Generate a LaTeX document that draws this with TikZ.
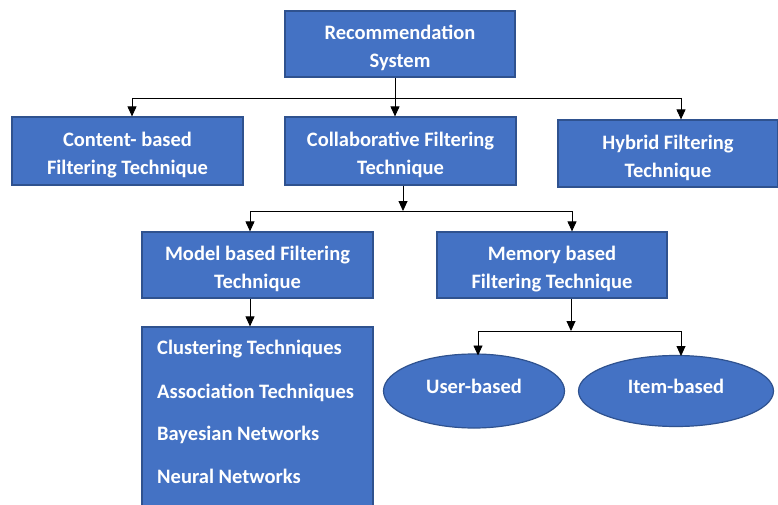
\documentclass[tikz,border=0pt]{standalone}
\usepackage{fontspec}
\setmainfont{Carlito}
\usetikzlibrary{arrows.meta,shapes.geometric}
\definecolor{boxfill}{RGB}{68,114,196}
\definecolor{boxline}{RGB}{47,82,143}
\newcommand{\toppad}{\rule{0pt}{23pt}}
\begin{document}
\begin{tikzpicture}[x=1pt,y=1pt,
  box/.style={rectangle,draw=boxline,line width=1.2pt,fill=boxfill,text=white,
    font=\bfseries\fontsize{20.5}{28}\selectfont,align=center,inner sep=0pt},
  oval/.style={ellipse,draw=boxline,line width=1.2pt,fill=boxfill,inner sep=0pt},
  ovaltext/.style={text=white,font=\bfseries\fontsize{20.5}{28}\selectfont,inner sep=0pt},
  item/.style={anchor=west,text=white,font=\bfseries\fontsize{20.5}{21}\selectfont,inner sep=0pt},
  conn/.style={draw=black,line width=0.9pt},
  arr/.style={conn,-{Triangle[length=10pt,width=9pt]}}]
\useasboundingbox (0,0) rectangle (778,-505);
\fill[white] (0,0) rectangle (778,-505);
\node[box,minimum width=230,minimum height=66] (rec) at (400,-44) {\toppad Recommendation\\System};
\node[box,minimum width=231,minimum height=68] (content) at (127.5,-151) {\toppad Content- based\\Filtering Technique};
\node[box,minimum width=231,minimum height=68] (coll) at (400.5,-151) {\toppad Collaborative Filtering\\Technique};
\node[box,minimum width=220,minimum height=67] (hyb) at (668,-153.5) {\toppad Hybrid Filtering\\Technique};
\node[box,minimum width=231,minimum height=66] (model) at (257.5,-265) {\toppad Model based Filtering\\Technique};
\node[box,minimum width=230,minimum height=66] (mem) at (552,-265) {\toppad Memory based\\Filtering Technique};
\node[rectangle,draw=boxline,line width=1.2pt,fill=boxfill,minimum width=231,minimum height=195] (list) at (257.5,-424.5) {};
\node[item] (i1) at (157,-349.5) {Clustering Techniques};
\node[item] (i2) at (157,-392.5) {Association Techniques};
\node[item] (i3) at (157,-434.5) {Bayesian Networks};
\node[item] (i4) at (157,-476) {Neural Networks};
\node[oval,minimum width=181,minimum height=74] (user) at (474,-391) {};
\node[ovaltext] (usert) at (474,-386) {User-based};
\node[oval,minimum width=195,minimum height=71] (itm) at (676,-391) {};
\node[ovaltext] (itmt) at (676,-386) {Item-based};
% connectors level 1
\coordinate (j1) at (395,-98);
\coordinate (j1L) at (132,-98);
\coordinate (j1R) at (681,-98);
\draw[conn] (rec.south -| j1) -- (j1);
\draw[conn] (j1L) -- (j1R);
\draw[arr] (j1L) -- (j1L |- content.north);
\draw[arr] (j1) -- (j1 |- coll.north);
\draw[arr] (j1R) -- (j1R |- hyb.north);
% connectors level 2
\coordinate (j2) at (403,-211);
\coordinate (j2L) at (250,-211);
\coordinate (j2R) at (572,-211);
\draw[arr] (j2 |- coll.south) -- (j2);
\draw[conn] (j2L) -- (j2R);
\draw[arr] (j2L) -- (j2L |- model.north);
\draw[arr] (j2R) -- (j2R |- mem.north);
% model to list
\coordinate (j3) at (250,-298);
\draw[arr] (j3 |- model.south) -- (j3 |- list.north);
% memory to ovals
\coordinate (j4) at (571,-331);
\coordinate (j4L) at (478,-331);
\coordinate (j4R) at (681,-331);
\draw[arr] (j4 |- mem.south) -- (j4);
\draw[conn] (j4L) -- (j4R);
\draw[arr] (j4L) -- (478,-355.5);
\draw[arr] (j4R) -- (681,-356);
\end{tikzpicture}
\end{document}
